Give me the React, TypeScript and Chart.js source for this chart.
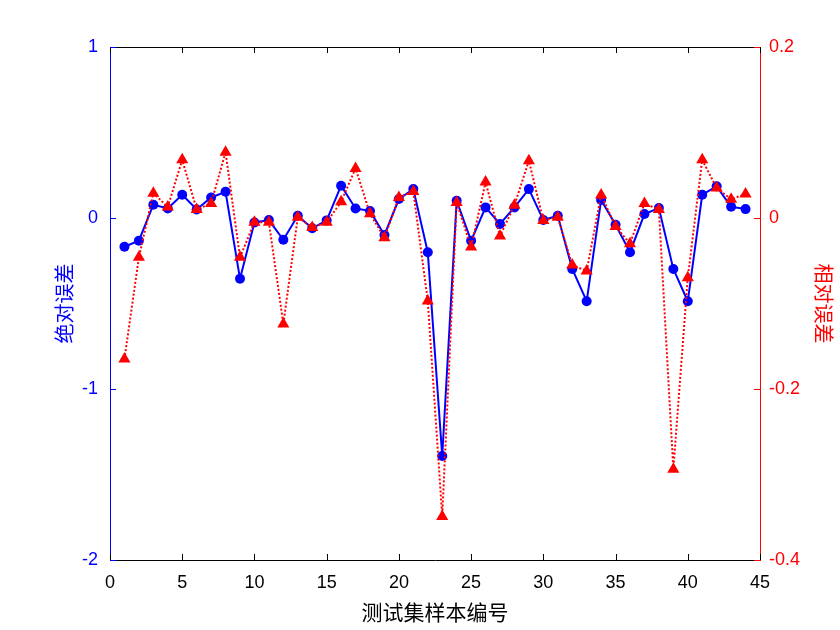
import React, { useEffect, useRef } from "react";
import { Chart, registerables } from "chart.js";

Chart.register(...registerables);

const sampleIndex = [1, 2, 3, 4, 5, 6, 7, 8, 9, 10, 11, 12, 13, 14, 15, 16, 17, 18, 19, 20, 21, 22, 23, 24, 25, 26, 27, 28, 29, 30, 31, 32, 33, 34, 35, 36, 37, 38, 39, 40, 41, 42, 43, 44];

const absError = [
  -0.168, -0.133, 0.078, 0.056, 0.136, 0.05, 0.12, 0.153, -0.355, -0.026,
  -0.012, -0.127, 0.013, -0.06, -0.014, 0.189, 0.056, 0.041, -0.099, 0.111,
  0.169, -0.2, -1.392, 0.101, -0.133, 0.062, -0.035, 0.062, 0.169, -0.012,
  0.013, -0.298, -0.487, 0.105, -0.039, -0.2, 0.023, 0.058, -0.298, -0.487,
  0.136, 0.185, 0.066, 0.052,
];

const relError = [
  -0.165, -0.046, 0.029, 0.013, 0.068, 0.01, 0.017, 0.077, -0.046, -0.005,
  -0.005, -0.124, 0.001, -0.011, -0.005, 0.019, 0.058, 0.005, -0.023, 0.024,
  0.031, -0.097, -0.349, 0.018, -0.034, 0.042, -0.021, 0.015, 0.067, -0.003,
  0.001, -0.055, -0.062, 0.027, -0.01, -0.03, 0.017, 0.01, -0.294, -0.07,
  0.068, 0.035, 0.022, 0.028,
];

const xTitle = "测试集样本编号";
const yLeftTitle = "绝对误差";
const yRightTitle = "相对误差";

const BLUE = "#0000FF";
const RED = "#FF0000";
const NUM_FONT = "'Liberation Sans', Arial, sans-serif";
const CJK_FONT = "'Noto Sans CJK SC', sans-serif";

const frameTicks = {
  id: "frameTicks",
  afterDatasetsDraw(chart: any) {
    const { ctx, chartArea } = chart;
    const { left, right, top, bottom } = chartArea;
    const len = 6;
    ctx.save();
    ctx.lineWidth = 1;
    // top border
    ctx.strokeStyle = "#000";
    ctx.beginPath();
    ctx.moveTo(left, top + 0.5);
    ctx.lineTo(right, top + 0.5);
    ctx.stroke();
    // x ticks (bottom and top, inward)
    const xs = chart.scales.x;
    xs.ticks.forEach((t: any) => {
      const px = Math.round(xs.getPixelForValue(t.value)) + 0.5;
      ctx.beginPath();
      ctx.moveTo(px, bottom);
      ctx.lineTo(px, bottom - len);
      ctx.moveTo(px, top);
      ctx.lineTo(px, top + len);
      ctx.stroke();
    });
    // left ticks
    const yl = chart.scales.y;
    ctx.strokeStyle = BLUE;
    yl.ticks.forEach((t: any) => {
      const py = Math.round(yl.getPixelForValue(t.value)) + 0.5;
      ctx.beginPath();
      ctx.moveTo(left, py);
      ctx.lineTo(left + len, py);
      ctx.stroke();
    });
    // right ticks
    const yr = chart.scales.y1;
    ctx.strokeStyle = RED;
    yr.ticks.forEach((t: any) => {
      const py = Math.round(yr.getPixelForValue(t.value)) + 0.5;
      ctx.beginPath();
      ctx.moveTo(right, py);
      ctx.lineTo(right - len, py);
      ctx.stroke();
    });
    ctx.restore();
  },
};

export default function App() {
  const canvasRef = useRef<HTMLCanvasElement | null>(null);

  useEffect(() => {
    if (!canvasRef.current) return;
    const chart = new Chart(canvasRef.current, {
      type: "line",
      data: {
        datasets: [
          {
            label: yRightTitle,
            data: sampleIndex.map((x, i) => ({ x, y: relError[i] })),
            yAxisID: "y1",
            borderColor: RED,
            backgroundColor: RED,
            borderWidth: 2,
            borderDash: [2, 2],
            pointStyle: "triangle",
            pointRadius: 7,
            pointBorderWidth: 0,
            tension: 0,
            order: 1,
          },
          {
            label: yLeftTitle,
            data: sampleIndex.map((x, i) => ({ x, y: absError[i] })),
            yAxisID: "y",
            borderColor: BLUE,
            backgroundColor: BLUE,
            borderWidth: 2,
            pointStyle: "circle",
            pointRadius: 5,
            pointBorderWidth: 0,
            tension: 0,
            order: 2,
          },
        ],
      },
      options: {
        responsive: false,
        animation: false,
        devicePixelRatio: 1,
        layout: { padding: { top: 47, left: 0, right: 0, bottom: 0 } },
        plugins: {
          legend: { display: false },
          tooltip: { enabled: false },
        },
        scales: {
          x: {
            type: "linear",
            position: "bottom",
            min: 0,
            max: 45,
            afterFit: (s: any) => {
              s.height = 70;
            },
            ticks: {
              stepSize: 5,
              color: "#000",
              font: { family: NUM_FONT, size: 18 },
              padding: 12,
              maxRotation: 0,
            },
            grid: { drawOnChartArea: false, drawTicks: false },
            border: { display: true, color: "#000", width: 1 },
            title: {
              display: true,
              text: xTitle,
              color: "#000",
              font: { family: CJK_FONT, size: 21 },
              padding: { top: 0, bottom: 5 },
            },
          },
          y: {
            type: "linear",
            position: "left",
            min: -2,
            max: 1,
            afterFit: (s: any) => {
              s.width = 110;
            },
            ticks: {
              stepSize: 1,
              color: BLUE,
              font: { family: NUM_FONT, size: 18 },
              padding: 12,
            },
            grid: { drawOnChartArea: false, drawTicks: false },
            border: { display: true, color: BLUE, width: 1 },
            title: {
              display: true,
              text: yLeftTitle,
              color: BLUE,
              font: { family: CJK_FONT, size: 20, weight: "normal" },
              padding: { top: 52, bottom: 0 },
            },
          },
          y1: {
            type: "linear",
            position: "right",
            min: -0.4,
            max: 0.2,
            afterFit: (s: any) => {
              s.width = 80;
            },
            ticks: {
              stepSize: 0.2,
              color: RED,
              font: { family: NUM_FONT, size: 18 },
              padding: 9,
              callback: (v: any) => {
                const n = Math.round(Number(v) * 10) / 10;
                return n === 0 ? "0" : String(n);
              },
            },
            grid: { drawOnChartArea: false, drawTicks: false },
            border: { display: true, color: RED, width: 1 },
            title: {
              display: true,
              text: yRightTitle,
              color: RED,
              font: { family: CJK_FONT, size: 20, weight: "normal" },
              padding: { top: 4, bottom: 0 },
            },
          },
        },
      },
      plugins: [frameTicks],
    } as any);
    return () => chart.destroy();
  }, []);

  return (
    <div style={{ position: "absolute", left: 0, top: 0, width: 840, height: 630, background: "#fff" }}>
      <canvas ref={canvasRef} width={840} height={630} style={{ display: "block", width: 840, height: 630 }} />
    </div>
  );
}
